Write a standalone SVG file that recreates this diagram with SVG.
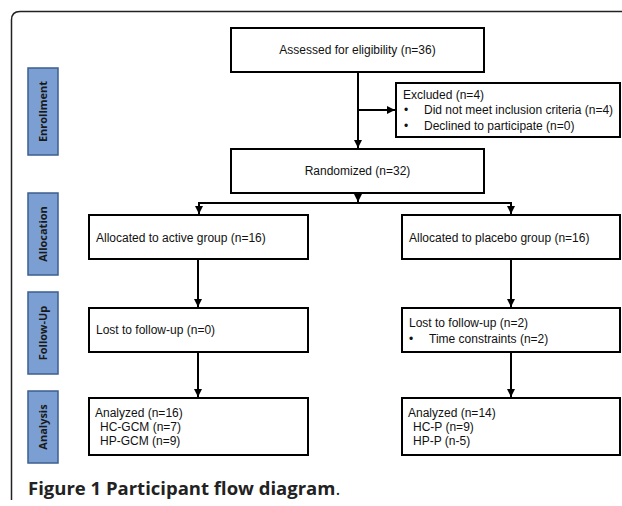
<svg xmlns="http://www.w3.org/2000/svg" width="622" height="506" viewBox="0 0 622 506">
<defs>
<marker id="ah" viewBox="0 0 10 10" refX="10" refY="5" markerWidth="4" markerHeight="4" orient="auto" markerUnits="strokeWidth">
<path d="M0,0 L10,5 L0,10 z" fill="#000"/>
</marker>
<style>
.box{fill:#fff;stroke:#000;stroke-width:2}
.side{fill:#7c9fd3;stroke:#3b5f8e;stroke-width:1.5}
.t{font-family:"Liberation Sans",Arial,sans-serif;font-size:12px;fill:#111}
.st{font-family:"Open Sans","Liberation Sans",sans-serif;font-size:11px;font-weight:bold;fill:#1a1a1a}
.ln{fill:none;stroke:#000;stroke-width:2}
.cap{font-family:"Open Sans","Liberation Sans",sans-serif;font-size:18.5px;font-weight:bold;fill:#222}
</style>
</defs>
<rect width="622" height="506" fill="#fff"/>
<path d="M11.5,500 Q11.5,498 11.5,495 L11.5,20 Q11.5,11.5 20,11.5 L622,11.5" fill="none" stroke="#222" stroke-width="1.5"/>

<g id="side-enrollment"><rect class="side" x="28" y="68" width="30" height="87"/><text class="st" transform="translate(47,111.5) rotate(-90)" text-anchor="middle">Enrollment</text></g>
<g id="side-allocation"><rect class="side" x="28" y="193" width="30" height="82"/><text class="st" transform="translate(47,234) rotate(-90)" text-anchor="middle">Allocation</text></g>
<g id="side-followup"><rect class="side" x="28" y="292" width="30" height="82"/><text class="st" transform="translate(47,333) rotate(-90)" text-anchor="middle">Follow-Up</text></g>
<g id="side-analysis"><rect class="side" x="28" y="391" width="30" height="72"/><text class="st" transform="translate(47,427) rotate(-90)" text-anchor="middle">Analysis</text></g>

<g id="assessed"><rect class="box" x="231" y="28" width="253" height="44"/><text class="t" x="357.5" y="54" text-anchor="middle">Assessed for eligibility (n=36)</text></g>
<g id="excluded"><rect class="box" x="396" y="83" width="224" height="54"/>
<text class="t" x="403" y="99">Excluded (n=4)</text>
<text class="t" x="404" y="114">•</text><text class="t" x="424" y="114">Did not meet inclusion criteria (n=4)</text>
<text class="t" x="404" y="130">•</text><text class="t" x="424" y="130">Declined to participate (n=0)</text></g>
<g id="randomized"><rect class="box" x="231" y="149" width="253" height="44"/><text class="t" x="357.5" y="175" text-anchor="middle">Randomized (n=32)</text></g>

<g id="alloc-active"><rect class="box" x="89" y="215" width="219" height="44"/><text class="t" x="96" y="242">Allocated to active group (n=16)</text></g>
<g id="alloc-placebo"><rect class="box" x="402" y="215" width="218" height="44"/><text class="t" x="409" y="242">Allocated to placebo group (n=16)</text></g>

<g id="follow-active"><rect class="box" x="89" y="308" width="219" height="44"/><text class="t" x="96" y="334">Lost to follow-up (n=0)</text></g>
<g id="follow-placebo"><rect class="box" x="402" y="308" width="218" height="44"/>
<text class="t" x="409" y="327">Lost to follow-up (n=2)</text>
<text class="t" x="409" y="343">•</text><text class="t" x="429" y="343">Time constraints (n=2)</text></g>

<g id="analysis-active"><rect class="box" x="89" y="398" width="219" height="57"/>
<text class="t" x="95" y="417">Analyzed (n=16)</text>
<text class="t" x="100" y="431">HC-GCM (n=7)</text>
<text class="t" x="100" y="445">HP-GCM (n=9)</text></g>
<g id="analysis-placebo"><rect class="box" x="402" y="398" width="218" height="57"/>
<text class="t" x="408" y="417">Analyzed (n=14)</text>
<text class="t" x="413" y="431">HC-P (n=9)</text>
<text class="t" x="413" y="445">HP-P (n-5)</text></g>

<g id="connectors">
<path class="ln" d="M358,72 V148" marker-end="url(#ah)"/>
<path class="ln" d="M358,110 H395" marker-end="url(#ah)"/>
<path class="ln" d="M358,193 V202" marker-end="url(#ah)"/>
<path class="ln" d="M199,214 V203 H511 V214" />
<path class="ln" d="M199,203 V214" marker-end="url(#ah)"/>
<path class="ln" d="M511,203 V214" marker-end="url(#ah)"/>
<path class="ln" d="M198,259 V307" marker-end="url(#ah)"/>
<path class="ln" d="M511,259 V307" marker-end="url(#ah)"/>
<path class="ln" d="M198,352 V397" marker-end="url(#ah)"/>
<path class="ln" d="M511,352 V397" marker-end="url(#ah)"/>
</g>

<text class="cap" x="28" y="495">Figure 1 Participant flow diagram<tspan font-weight="normal">.</tspan></text>
</svg>
